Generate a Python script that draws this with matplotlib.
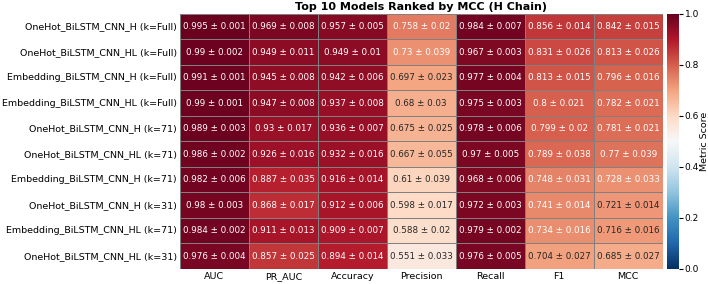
import numpy as np
import pandas as pd
import matplotlib
matplotlib.use("Agg")
import matplotlib.pyplot as plt
import seaborn as sns

models = [
    "OneHot_BiLSTM_CNN_H (k=Full)",
    "OneHot_BiLSTM_CNN_HL (k=Full)",
    "Embedding_BiLSTM_CNN_H (k=Full)",
    "Embedding_BiLSTM_CNN_HL (k=Full)",
    "OneHot_BiLSTM_CNN_H (k=71)",
    "OneHot_BiLSTM_CNN_HL (k=71)",
    "Embedding_BiLSTM_CNN_H (k=71)",
    "OneHot_BiLSTM_CNN_H (k=31)",
    "Embedding_BiLSTM_CNN_HL (k=71)",
    "OneHot_BiLSTM_CNN_HL (k=31)",
]
metrics = ["AUC", "PR_AUC", "Accuracy", "Precision", "Recall", "F1", "MCC"]

auc = [0.995, 0.99, 0.991, 0.99, 0.989, 0.986, 0.982, 0.98, 0.984, 0.976]
auc_sd = [0.001, 0.002, 0.001, 0.001, 0.003, 0.002, 0.006, 0.003, 0.002, 0.004]
pr_auc = [0.969, 0.949, 0.945, 0.947, 0.93, 0.926, 0.887, 0.868, 0.911, 0.857]
pr_auc_sd = [0.008, 0.011, 0.008, 0.008, 0.017, 0.016, 0.035, 0.017, 0.013, 0.025]
accuracy = [0.957, 0.949, 0.942, 0.937, 0.936, 0.932, 0.916, 0.912, 0.909, 0.894]
accuracy_sd = [0.005, 0.01, 0.006, 0.008, 0.007, 0.016, 0.014, 0.006, 0.007, 0.014]
precision = [0.758, 0.73, 0.697, 0.68, 0.675, 0.667, 0.61, 0.598, 0.588, 0.551]
precision_sd = [0.02, 0.039, 0.023, 0.03, 0.025, 0.055, 0.039, 0.017, 0.02, 0.033]
recall = [0.984, 0.967, 0.977, 0.975, 0.978, 0.97, 0.968, 0.972, 0.979, 0.976]
recall_sd = [0.007, 0.003, 0.004, 0.003, 0.006, 0.005, 0.006, 0.003, 0.002, 0.005]
f1 = [0.856, 0.831, 0.813, 0.8, 0.799, 0.789, 0.748, 0.741, 0.734, 0.704]
f1_sd = [0.014, 0.026, 0.015, 0.021, 0.02, 0.038, 0.031, 0.014, 0.016, 0.027]
mcc = [0.842, 0.813, 0.796, 0.782, 0.781, 0.77, 0.728, 0.721, 0.716, 0.685]
mcc_sd = [0.015, 0.026, 0.016, 0.021, 0.021, 0.039, 0.033, 0.014, 0.016, 0.027]

means = np.array([auc, pr_auc, accuracy, precision, recall, f1, mcc]).T
sds = np.array([auc_sd, pr_auc_sd, accuracy_sd, precision_sd, recall_sd, f1_sd, mcc_sd]).T

df = pd.DataFrame(means, index=models, columns=metrics)
labels = np.array([[f"{m:g} \u00b1 {s:g}" for m, s in zip(rm, rs)]
                   for rm, rs in zip(means, sds)])

fig = plt.figure(figsize=(7.08, 2.84), dpi=100)
ax = fig.add_axes([0.254, 0.053, 0.682, 0.898])
cax = fig.add_axes([0.942, 0.053, 0.017, 0.898])

sns.heatmap(df, annot=labels, fmt="", cmap="RdBu_r", vmin=0, vmax=1,
            linewidths=0.5, linecolor="gray", ax=ax, cbar_ax=cax,
            annot_kws={"fontsize": 6.3}, cbar_kws={"label": "Metric Score"})

ax.set_title("Top 10 Models Ranked by MCC (H Chain)", fontsize=8,
             fontweight="bold", pad=3)
ax.tick_params(axis="both", labelsize=6.8, length=0)
ax.tick_params(axis="x", pad=2)
ax.tick_params(axis="y", pad=2)
plt.setp(ax.get_yticklabels(), rotation=0)
plt.setp(ax.get_xticklabels(), rotation=0)
cax.tick_params(labelsize=6.5, length=3, pad=1)
cax.yaxis.label.set_size(6.8)
cax.yaxis.labelpad = 1

fig.savefig("out.png", dpi=100)
